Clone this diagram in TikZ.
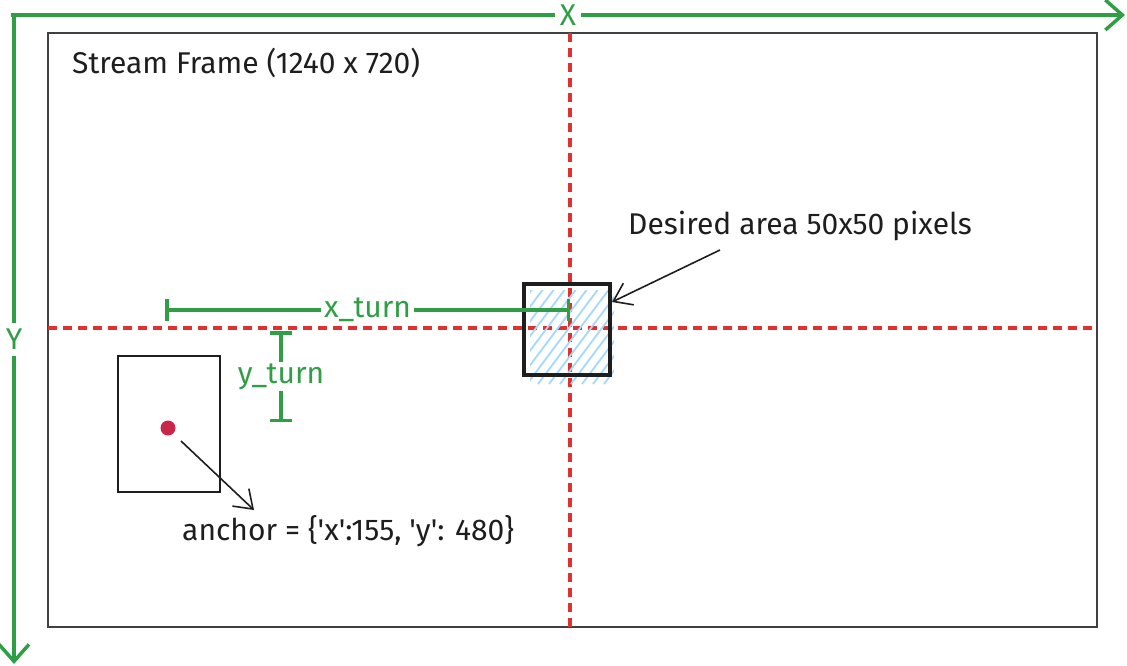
\documentclass[tikz,border=0pt]{standalone}
\usepackage{fontspec}
\setmainfont{Fira Sans}
\usetikzlibrary{arrows.meta, positioning}
\definecolor{axgreen}{HTML}{2F9E44}
\definecolor{guidered}{HTML}{E03131}
\definecolor{dotred}{HTML}{C9264A}
\definecolor{hatchblue}{HTML}{A5D8FF}
\definecolor{ink}{HTML}{1E1E1E}

\begin{document}
\begin{tikzpicture}[x=1pt, y=-1pt,
  axis/.style={-{Straight Barb[length=17pt, width=30pt, line width=3.5pt]}, line width=4pt, draw=axgreen},
  guide/.style={draw=guidered, line width=3.2pt, dash pattern=on 9pt off 6pt},
  dimline/.style={{Bar[width=22pt]}-{Bar[width=22pt]}, line width=3.5pt, draw=axgreen},
  lbl/.style={font=\fontsize{30}{35}\selectfont, text=ink, inner sep=2pt},
  glbl/.style={font=\fontsize{30}{35}\selectfont, text=axgreen, fill=white, inner sep=3pt},
  pointer/.style={-{Straight Barb[length=17pt, width=24pt, line width=1.6pt]}, line width=1.6pt, draw=ink},
]
  \useasboundingbox (0,0) rectangle (1127,666);

  % stream frame and its centre lines
  \draw[draw=ink!85, line width=1.8pt] (48,33) rectangle (1097,627);
  \node[lbl, anchor=west] (title) at (70,63) {Stream Frame (1240 x 720)};
  \draw[guide] (570,33) -- (570,632);
  \draw[guide] (48,328) -- (1097,328);

  % axes
  \coordinate (origin) at (11,15);
  \coordinate (xend) at (1125,15);
  \coordinate (yend) at (14,664);
  \draw[axis] (origin) -- node[glbl, inner xsep=5pt, inner ysep=1pt]{X} (xend);
  \draw[axis] (origin) -| node[glbl, pos=0.75, inner xsep=1pt, inner ysep=6pt]{Y} (yend);

  % desired area
  \begin{scope}
    \clip (530,290) rectangle (614,384);
    \foreach \k in {0,...,18}
      \draw[hatchblue, line width=1.8pt] (450+\k*11,384) -- ++(75,-100);
  \end{scope}
  \node[draw=ink, line width=4pt, minimum width=86pt, minimum height=91pt,
        inner sep=0pt] (target) at (567,329.5) {};
  \node[lbl, anchor=west] (areatxt) at (626,226) {Desired area 50x50 pixels};
  \coordinate (area0) at (720,250);
  \draw[pointer] (area0) -- (target.east |- 0,302);

  % turn distances
  \coordinate (xt0) at (165,310);
  \coordinate (xt1) at (570,310);
  \draw[dimline] (xt0) -- node[glbl]{x\_turn} (xt1);
  \coordinate (yt0) at (281,331);
  \coordinate (yt1) at (281,422);
  \draw[dimline] (yt0) -- node[glbl, inner sep=1pt]{y\_turn} (yt1);

  % person box and anchor
  \draw[draw=ink, line width=2.6pt] (118,356) rectangle (220,492);
  \node[circle, fill=dotred, minimum size=15pt, inner sep=0pt] (dot) at (168,428) {};
  \coordinate (anc0) at (181,441);
  \coordinate (anc1) at (254,510);
  \draw[pointer] (anc0) -- (anc1);
  \node[lbl, anchor=west] (anchortxt) at (180,531)
    {anchor = \{\textquotesingle x\textquotesingle:155, \textquotesingle y\textquotesingle: 480\}};
\end{tikzpicture}
\end{document}
